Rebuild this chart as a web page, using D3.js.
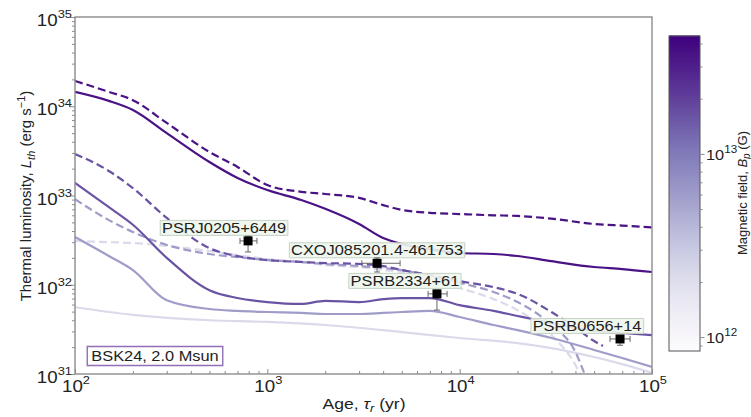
<!DOCTYPE html>
<html lang="en">
<head>
<meta charset="utf-8">
<title>Thermal luminosity vs age</title>
<script src="https://cdn.jsdelivr.net/npm/d3@7"></script>
<style>
  body { margin: 0; background: #fff; }
  text { font-family: "Liberation Sans", Arial, sans-serif; fill: #222; }
</style>
</head>
<body>
<script>
var w = 751, h = 417;
var SX = 1.17; // the reference text is a bit stretched sideways

// ---- cooling curves, age in yr, luminosity in erg/s ----
var ageGrid = [100, 150, 200, 300, 500, 700, 1000, 1500, 2000, 3000, 4000, 5000,
               7000, 10000, 15000, 20000, 30000, 50000, 70000, 100000];

var lumDarkDashed = [1.92e34, 1.45e34, 1.17e34, 6.5e33, 3.07e33, 2.09e33, 1.31e33, 1.1e33, 1.04e33, 9.4e32,
                     7.8e32, 6.9e32, 6.4e32, 6.2e32, 6.0e32, 5.9e32, 5.5e32, 4.8e32, 4.6e32, 4.4e32];
var lumDarkSolid  = [1.45e34, 1.15e34, 9.1e33, 5.0e33, 2.37e33, 1.57e33, 1.15e33, 8.9e32, 7.1e32, 4.8e32,
                     3.34e32, 2.86e32, 2.5e32, 2.27e32, 2.21e32, 2.1e32, 1.84e32, 1.58e32, 1.5e32, 1.39e32];
var lumMedSolid   = [1.38e33, 7.4e32, 4.7e32, 2.0e32, 8.7e31, 7.1e31, 6.4e31, 6.1e31, 6.6e31, 6.4e31,
                     6.9e31, 7.1e31, 7.1e31, 5.9e31, 5.1e31, 4.47e31, 3.73e31, 3.03e31, 2.88e31, 2.73e31];
var lumLightSolid = [3.43e32, 2.1e32, 1.46e32, 6.7e31, 5.35e31, 5.1e31, 4.95e31, 4.83e31, 4.7e31, 4.7e31,
                     4.83e31, 4.95e31, 5.1e31, 4.35e31, 3.54e31, 3.1e31, 2.53e31, 1.86e31, 1.51e31, 1.2e31];

var ageMedDashed = [100, 150, 200, 300, 500, 700, 1000, 1500, 2000, 3000, 4000, 5000,
                    7000, 10000, 15000, 20000, 30000, 40000, 50000, 55600];
var lumMedDashed = [2.92e33, 1.88e33, 1.21e33, 5.6e32, 2.57e32, 2.09e32, 1.89e32, 1.8e32, 1.75e32, 1.71e32,
                    1.62e32, 1.46e32, 1.29e32, 1.1e32, 9.4e31, 7.9e31, 4.95e31, 3.3e31, 2.34e31, 2.06e31];

var ageLowDashed = [100, 150, 200, 300, 500, 700, 1000, 1500, 2000, 3000, 4000, 5000,
                    7000, 10000, 15000, 20000, 30000, 40000, 45000];
var lumLightDashed = [9.1e32, 5.3e32, 3.9e32, 2.79e32, 2.21e32, 2.04e32, 1.89e32, 1.8e32, 1.71e32, 1.62e32,
                      1.54e32, 1.46e32, 1.25e32, 1.05e32, 8.3e31, 6.4e31, 3.54e31, 1.76e31, 0.95e31];
var lumPaleDashed  = [3.1e32, 3.0e32, 2.94e32, 2.72e32, 2.39e32, 2.15e32, 1.94e32, 1.8e32, 1.66e32, 1.58e32,
                      1.46e32, 1.39e32, 1.13e32, 9.2e31, 6.9e31, 5.2e31, 2.73e31, 1.26e31, 0.75e31];

var agePale = [100, 200, 500, 1000, 2000, 5000, 10000, 20000, 30000, 50000, 70000, 100000];
var lumPaleSolid = [5.6e31, 4.6e31, 4.0e31, 3.83e31, 3.54e31, 2.95e31, 2.53e31, 2.22e31, 1.95e31, 1.55e31, 1.29e31, 1.03e31];

// magnetic field (G) of each curve -> colour
var fieldPale = 2.2e12, fieldLight = 6e12, fieldMed = 1.6e13, fieldDark = 3.5e13;

// ---- observed sources ----
var srcNames = ["PSRJ0205+6449", "CXOJ085201.4-461753", "PSRB2334+61", "PSRB0656+14"];
var srcAge   = [794, 3720, 7620, 68200];
var srcAgeLo = [721, 3100, 6850, 60500];
var srcAgeHi = [883, 4900, 8600, 76900];
var srcLum   = [3.1e32, 1.74e32, 7.9e31, 2.47e31];
var srcLumLo = [2.33e32, 1.39e32, 5.2e31, 2.1e31];
var srcLumHi = [3.5e32, 2.0e32, 8.7e31, 2.7e31];
// where the name box sits relative to the point (pixels)
var srcLabelDx = [-24, 0, -32, -33];
var srcLabelDy = [-13, -13, -13, -13];

var xTicks = [1e2, 1e3, 1e4, 1e5];
var yTicks = [1e31, 1e32, 1e33, 1e34, 1e35];
var cbTicks = [1e12, 1e13];

// ---- layout ----
var plotL = 75, plotR = 652, plotT = 17, plotB = 374;
var cbLeft = 669, cbRight = 700, cbTop = 36, cbBottom = 351;

var svg = d3.select("body").append("svg").attr("width", w).attr("height", h);

var xScale = d3.scaleLog().domain([1e2, 1e5]).range([plotL, plotR]);
var yScale = d3.scaleLog().domain([1e31, 1e35]).range([plotB, plotT]);
var cScale = d3.scaleLog().domain([8.4e11, 4.4e13]).range([cbBottom, cbTop]);
var colorOf = function(b) {
  var t = (Math.log10(b) - Math.log10(8.4e11)) / (Math.log10(4.4e13) - Math.log10(8.4e11));
  return d3.interpolatePurples(Math.max(0, Math.min(1, t)));
};

// text helper: positions a group, stretches it sideways
function sText(parent, x, y, anchor, size) {
  return parent.append("g")
    .attr("transform", "translate(" + x + "," + y + ") scale(" + SX + ",1)")
    .append("text")
    .attr("text-anchor", anchor)
    .style("font-size", size + "px");
}
function power(t, exp, supSize, dy) {
  t.append("tspan").text("10");
  t.append("tspan").attr("dy", dy).style("font-size", supSize + "px").text(exp);
}

svg.append("clipPath").attr("id", "plotclip").append("rect")
  .attr("x", plotL).attr("y", plotT).attr("width", plotR - plotL).attr("height", plotB - plotT);

// ---- curves ----
var curves = [
  {age: agePale, lum: lumPaleSolid, b: fieldPale, dash: false},
  {age: ageLowDashed, lum: lumPaleDashed, b: fieldPale, dash: true},
  {age: ageGrid, lum: lumLightSolid, b: fieldLight, dash: false},
  {age: ageLowDashed, lum: lumLightDashed, b: fieldLight, dash: true},
  {age: ageGrid, lum: lumMedSolid, b: fieldMed, dash: false},
  {age: ageMedDashed, lum: lumMedDashed, b: fieldMed, dash: true},
  {age: ageGrid, lum: lumDarkSolid, b: fieldDark, dash: false},
  {age: ageGrid, lum: lumDarkDashed, b: fieldDark, dash: true}
];

var line = d3.line()
  .x(function(d) { return xScale(d[0]); })
  .y(function(d) { return yScale(d[1]); })
  .curve(d3.curveMonotoneX);

svg.append("g").attr("clip-path", "url(#plotclip)")
  .selectAll("path")
  .data(curves)
  .enter()
  .append("path")
  .attr("d", function(c) { return line(c.age.map(function(a, i) { return [a, c.lum[i]]; })); })
  .attr("fill", "none")
  .attr("stroke", function(c) { return colorOf(c.b); })
  .attr("stroke-width", 2.2)
  .attr("stroke-dasharray", function(c) { return c.dash ? "8,4" : null; });

// ---- frame and ticks ----
svg.append("rect")
  .attr("x", plotL).attr("y", plotT).attr("width", plotR - plotL).attr("height", plotB - plotT)
  .attr("fill", "none").attr("stroke", "#8c8c8c").attr("stroke-width", 1.4);

var xMinor = [], yMinor = [], cbMinor = [];
[1e2, 1e3, 1e4].forEach(function(d) { for (var k = 2; k < 10; k++) xMinor.push(d * k); });
[1e31, 1e32, 1e33, 1e34].forEach(function(d) { for (var k = 2; k < 10; k++) yMinor.push(d * k); });
[1e11, 1e12, 1e13].forEach(function(d) {
  for (var k = 1; k < 10; k++) {
    var v = d * k;
    if (v > 8.4e11 && v < 4.4e13 && cbTicks.indexOf(v) < 0) cbMinor.push(v);
  }
});

function grayTicks(g) { g.select(".domain").remove(); g.selectAll("line").attr("stroke", "#8c8c8c"); }
svg.append("g").attr("transform", "translate(0," + plotB + ")")
  .call(d3.axisBottom(xScale).tickValues(xMinor).tickSize(-3).tickFormat("")).call(grayTicks);
svg.append("g").attr("transform", "translate(0," + plotB + ")")
  .call(d3.axisBottom(xScale).tickValues(xTicks).tickSize(-5).tickFormat("")).call(grayTicks);
svg.append("g").attr("transform", "translate(" + plotL + ",0)")
  .call(d3.axisLeft(yScale).tickValues(yMinor).tickSize(3).tickFormat("")).call(grayTicks);
svg.append("g").attr("transform", "translate(" + plotL + ",0)")
  .call(d3.axisLeft(yScale).tickValues(yTicks).tickSize(5).tickFormat("")).call(grayTicks);

xTicks.forEach(function(v) {
  var t = sText(svg, xScale(v) + 1, 392, "middle", 16);
  power(t, String(Math.round(Math.log10(v))), 11, -8);
});
yTicks.forEach(function(v) {
  var t = sText(svg, 72, yScale(v) + 9, "end", 16);
  power(t, String(Math.round(Math.log10(v))), 11, -8);
});

// axis titles
var yl = svg.append("g").attr("transform", "translate(31,196) rotate(-90)")
  .append("text").attr("text-anchor", "middle").style("font-size", "15px");
yl.append("tspan").text("Thermal luminosity, ");
yl.append("tspan").style("font-style", "italic").text("L");
yl.append("tspan").attr("dy", 4).style("font-size", "11px").style("font-style", "italic").text("th");
yl.append("tspan").attr("dy", -4).text(" (erg s");
yl.append("tspan").attr("dy", -6).style("font-size", "11px").text("\u22121");
yl.append("tspan").attr("dy", 6).text(")");

var xl = sText(svg, 364, 409, "middle", 15);
xl.append("tspan").text("Age, ");
xl.append("tspan").style("font-style", "italic").text("\u03c4");
xl.append("tspan").attr("dy", 3).style("font-size", "11px").style("font-style", "italic").text("r");
xl.append("tspan").attr("dy", -3).text(" (yr)");

// ---- model label ----
var bsk = svg.append("g").attr("transform", "translate(155,356) scale(" + SX + ",1)");
var bskRect = bsk.append("rect");
var bskText = bsk.append("text").attr("text-anchor", "middle").attr("y", 5).style("font-size", "14px")
  .text("BSK24, 2.0 Msun");
var bb = bskText.node().getBBox();
bskRect.attr("x", bb.x - 3.5).attr("y", -9.5).attr("width", bb.width + 7).attr("height", 19)
  .attr("fill", "#fff").attr("stroke", "#8e6fb8").attr("stroke-width", 1.4)
  .attr("vector-effect", "non-scaling-stroke");

// ---- sources: name boxes, error bars, squares ----
srcNames.forEach(function(name, i) {
  var px = xScale(srcAge[i]), py = yScale(srcLum[i]);
  var g = svg.append("g")
    .attr("transform", "translate(" + (px + srcLabelDx[i]) + "," + (py + srcLabelDy[i]) + ") scale(" + SX + ",1)");
  var r = g.append("rect");
  var t = g.append("text").attr("text-anchor", "middle").attr("y", 5).style("font-size", "14px").text(name);
  var b = t.node().getBBox();
  r.attr("x", b.x - 1.5).attr("y", -7.5).attr("width", b.width + 3).attr("height", 15)
    .attr("fill", "#eef6ec").attr("fill-opacity", 0.9)
    .attr("stroke", "#c4d2c4").attr("stroke-width", 1).attr("vector-effect", "non-scaling-stroke");
});

var eb = svg.append("g").attr("stroke", "#666").attr("stroke-width", 1);
srcNames.forEach(function(name, i) {
  var px = xScale(srcAge[i]), py = yScale(srcLum[i]);
  var x0 = xScale(srcAgeLo[i]), x1 = xScale(srcAgeHi[i]);
  var y0 = yScale(srcLumLo[i]), y1 = yScale(srcLumHi[i]);
  eb.append("line").attr("x1", x0).attr("x2", x1).attr("y1", py).attr("y2", py);
  eb.append("line").attr("x1", x0).attr("x2", x0).attr("y1", py - 3).attr("y2", py + 3);
  eb.append("line").attr("x1", x1).attr("x2", x1).attr("y1", py - 3).attr("y2", py + 3);
  eb.append("line").attr("x1", px).attr("x2", px).attr("y1", y1).attr("y2", y0);
  eb.append("line").attr("x1", px - 3).attr("x2", px + 3).attr("y1", y0).attr("y2", y0);
  eb.append("line").attr("x1", px - 3).attr("x2", px + 3).attr("y1", y1).attr("y2", y1);
});

svg.selectAll(".src")
  .data(srcNames)
  .enter()
  .append("rect")
  .attr("class", "src")
  .attr("x", function(d, i) { return xScale(srcAge[i]) - 4.5; })
  .attr("y", function(d, i) { return yScale(srcLum[i]) - 4.5; })
  .attr("width", 9).attr("height", 9)
  .attr("fill", "#000");

// ---- colour bar ----
var cbSteps = d3.range(0, 160).map(function(i) {
  return Math.pow(10, Math.log10(8.4e11) + (Math.log10(4.4e13) - Math.log10(8.4e11)) * i / 160);
});
var stepH = (cbBottom - cbTop) / 160;
svg.append("g").selectAll("rect")
  .data(cbSteps)
  .enter()
  .append("rect")
  .attr("x", cbLeft)
  .attr("y", function(d) { return cScale(d) - stepH - 0.5; })
  .attr("width", cbRight - cbLeft)
  .attr("height", stepH + 1)
  .attr("fill", function(d) { return colorOf(d); });
svg.append("rect")
  .attr("x", cbLeft).attr("y", cbTop).attr("width", cbRight - cbLeft).attr("height", cbBottom - cbTop)
  .attr("fill", "none").attr("stroke", "#555").attr("stroke-width", 1);

svg.append("g").attr("transform", "translate(" + cbRight + ",0)")
  .call(d3.axisRight(cScale).tickValues(cbMinor).tickSize(2.5).tickFormat("")).call(grayTicks);
svg.append("g").attr("transform", "translate(" + cbRight + ",0)")
  .call(d3.axisRight(cScale).tickValues(cbTicks).tickSize(4.5).tickFormat("")).call(grayTicks);
cbTicks.forEach(function(v) {
  var t = sText(svg, 706, cScale(v) + 6, "start", 14);
  power(t, String(Math.round(Math.log10(v))), 10, -7);
});

var cl = svg.append("g").attr("transform", "translate(747,193) rotate(-90)")
  .append("text").attr("text-anchor", "middle").style("font-size", "13px");
cl.append("tspan").text("Magnetic field, ");
cl.append("tspan").style("font-style", "italic").text("B");
cl.append("tspan").attr("dy", 3).style("font-size", "10px").style("font-style", "italic").text("p");
cl.append("tspan").attr("dy", -3).text(" (G)");
</script>
</body>
</html>
